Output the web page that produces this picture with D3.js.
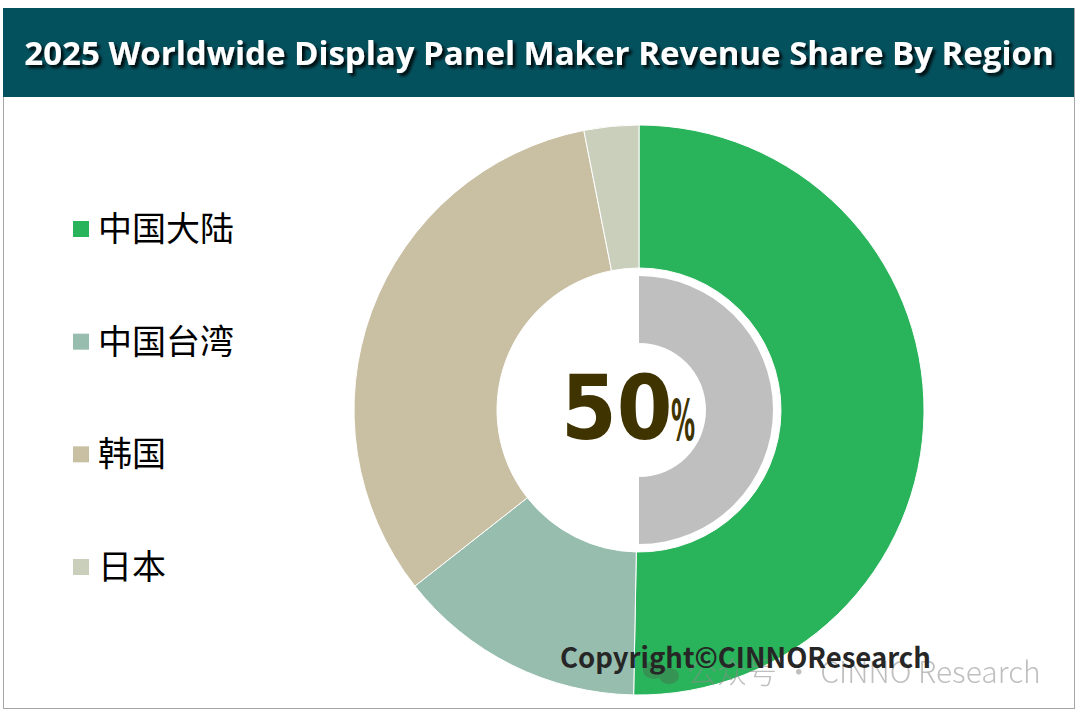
<!DOCTYPE html>
<html lang="zh">
<head>
<meta charset="UTF-8">
<title>2025 Worldwide Display Panel Maker Revenue Share By Region</title>
<script src="https://d3js.org/d3.v7.min.js"></script>
<style>
    body { margin: 0; background: #ffffff; }
    #chart { display: block; }
    .title { font-family: "Open Sans", "Noto Sans", sans-serif; font-weight: 700; fill: #ffffff; }
    .legend text { font-family: "Noto Sans CJK SC", sans-serif; fill: #000000; }
    .center-num { font-family: "DejaVu Sans Condensed", "DejaVu Sans", sans-serif; font-weight: 700; fill: #3f3300; }
    .copyright { font-family: "Noto Sans CJK SC", "Noto Sans", sans-serif; font-weight: 700; fill: #262626; }
    .watermark { font-family: "Noto Sans CJK SC", sans-serif; font-weight: 300; fill: #8c8c8c; }
</style>
</head>
<body>
<svg id="chart" width="1080" height="712"></svg>
<script>
    // data
    const regions = ["中国大陆", "中国台湾", "韩国", "日本"];
    const shares = [50.3, 14.1, 32.5, 3.1];
    const regionColors = ["#29b35a", "#96bdae", "#c9bfa3", "#c9cfba"];
    const centerValue = 50;
    const titleText = "2025 Worldwide Display Panel Maker Revenue Share By Region";

    const svg = d3.select("#chart");

    // drop shadow for the title
    let defs = svg.append("defs");
    let shadow = defs.append("filter").attr("id", "shadow")
        .attr("x", "-5%").attr("y", "-30%").attr("width", "110%").attr("height", "160%");
    shadow.append("feDropShadow")
        .attr("dx", 3).attr("dy", 3).attr("stdDeviation", 1.6)
        .attr("flood-color", "#000000").attr("flood-opacity", 0.85);

    // frame + title bar
    svg.append("rect")
        .attr("x", 3.5).attr("y", 8.5).attr("width", 1071).attr("height", 700)
        .attr("fill", "#ffffff").attr("stroke", "#a6a6a6").attr("stroke-width", 1);
    svg.append("rect")
        .attr("x", 3).attr("y", 8).attr("width", 1071).attr("height", 89)
        .attr("fill", "#04515e");
    svg.append("text")
        .attr("class", "title")
        .attr("x", 539).attr("y", 65)
        .attr("text-anchor", "middle")
        .style("font-size", "33px")
        .attr("filter", "url(#shadow)")
        .text(titleText);

    // donut
    const cx = 639, cy = 410;
    let pie = d3.pie().sort(null).value(function (d) { return d; });
    let arc = d3.arc().innerRadius(142).outerRadius(285);

    let donut = svg.append("g").attr("transform", `translate(${cx},${cy})`);
    donut.selectAll("path.slice")
        .data(pie(shares))
        .enter()
        .append("path")
        .attr("class", "slice")
        .attr("d", arc)
        .attr("fill", function (d, i) { return regionColors[i]; })
        .attr("stroke", "#ffffff")
        .attr("stroke-width", 1);

    // inner half gauge showing the centre value
    let gauge = pie([centerValue, 100 - centerValue]);
    let gaugeArc = d3.arc().innerRadius(67).outerRadius(134);
    donut.append("path")
        .attr("d", gaugeArc(gauge[0]))
        .attr("fill", "#bfbfbf");

    svg.append("text")
        .attr("class", "center-num")
        .attr("x", 561).attr("y", 439)
        .style("font-size", "89px")
        .text(centerValue);
    // narrow percent sign
    svg.append("text")
        .attr("class", "center-num")
        .attr("transform", "translate(671,441) scale(0.47,1)")
        .style("font-size", "57px")
        .text("%");

    // legend
    let ly = d3.scaleLinear().domain([0, regions.length - 1]).range([229, 567]);
    let legend = svg.append("g").attr("class", "legend");
    let item = legend.selectAll("g")
        .data(regions)
        .enter()
        .append("g")
        .attr("transform", function (d, i) { return `translate(73,${ly(i)})`; });
    item.append("rect")
        .attr("x", 0).attr("y", -8).attr("width", 16).attr("height", 16)
        .attr("fill", function (d, i) { return regionColors[i]; });
    item.append("text")
        .attr("x", 25).attr("y", 12)
        .style("font-size", "34px")
        .style("font-weight", 400)
        .text(function (d) { return d; });

    // watermark + copyright (they overlap in the source image)
    let wm = svg.append("g").attr("opacity", 0.55);
    wm.append("ellipse").attr("cx", 654).attr("cy", 670).attr("rx", 11).attr("ry", 9).attr("fill", "#3f7a50");
    wm.append("ellipse").attr("cx", 669).attr("cy", 676).attr("rx", 10).attr("ry", 8).attr("fill", "#3f7a50");
    wm.append("text")
        .attr("class", "watermark")
        .attr("x", 687).attr("y", 683)
        .style("font-size", "30px")
        .text("公众号 · CINNO Research");

    svg.append("text")
        .attr("class", "copyright")
        .attr("x", 560).attr("y", 668)
        .style("font-size", "27.5px")
        .text("Copyright©CINNOResearch");
</script>
</body>
</html>
